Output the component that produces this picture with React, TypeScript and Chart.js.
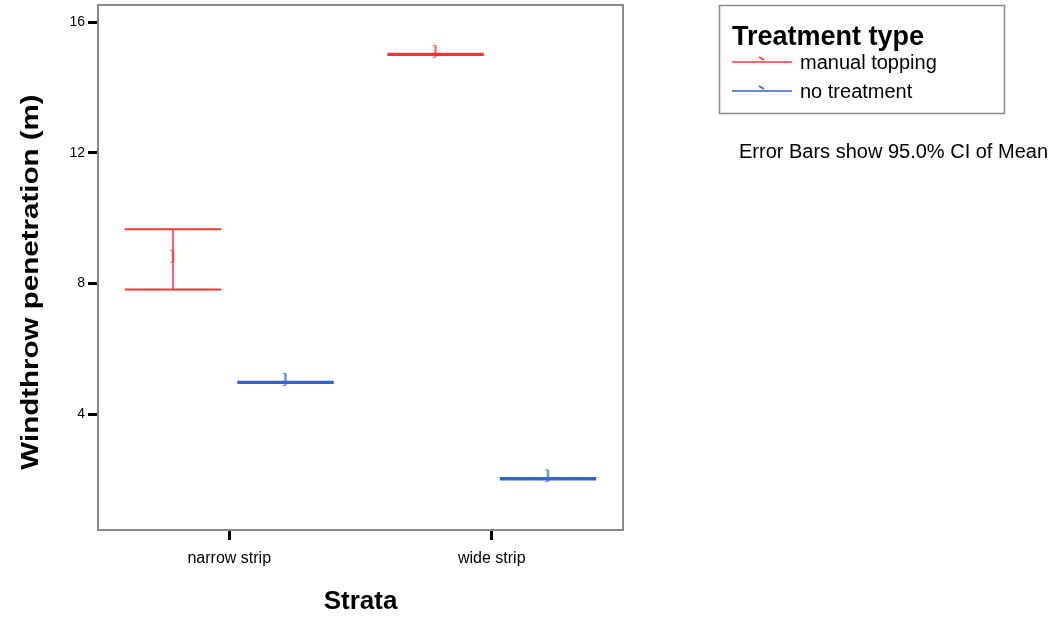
import React, { useEffect, useRef } from "react";
import { Chart, registerables } from "chart.js";

Chart.register(...registerables);

const categories = ["narrow strip", "wide strip"];
const seriesNames = ["manual topping", "no treatment"];
const seriesColors = ["#ff3333", "#3366cc"];
const manualMean = [8.74, 15.02];
const manualLow = [7.82, 15.0];
const manualHigh = [9.66, 15.04];
const noneMean = [4.97, 2.02];
const noneLow = [4.95, 2.0];
const noneHigh = [4.99, 2.04];
const yTicks = [4, 8, 12, 16];
const yTitle = "Windthrow penetration (m)";
const xTitle = "Strata";
const legendTitle = "Treatment type";
const note = "Error Bars show 95.0% CI of Mean";

const FONT = "'Liberation Sans', Arial, sans-serif";

const means = [manualMean, noneMean];

const errorBarPlugin = {
  id: "errorBars",
  afterDatasetsDraw(chart: any) {
    const ctx = chart.ctx;
    const yScale = chart.scales.y;
    const area = chart.chartArea;
    ctx.save();
    chart.data.datasets.forEach((ds: any, i: number) => {
      const meta = chart.getDatasetMeta(i);
      meta.data.forEach((bar: any, j: number) => {
        const { x, width } = bar.getProps(["x", "width"], true);
        const [lo, hi] = ds.data[j];
        const yLo = yScale.getPixelForValue(lo);
        const yHi = yScale.getPixelForValue(hi);
        const yM = yScale.getPixelForValue(means[i][j]);
        ctx.strokeStyle = seriesColors[i];
        ctx.lineWidth = 1.5;
        ctx.beginPath();
        ctx.moveTo(x, yLo);
        ctx.lineTo(x, yHi);
        ctx.stroke();
        ctx.lineWidth = 2;
        [yLo, yHi].forEach((yy) => {
          ctx.beginPath();
          ctx.moveTo(x - width / 2, yy);
          ctx.lineTo(x + width / 2, yy);
          ctx.stroke();
        });
        ctx.globalAlpha = 0.7;
        ctx.lineWidth = 2.5;
        ctx.beginPath();
        ctx.moveTo(x, yM - 9);
        ctx.lineTo(x, yM + 3);
        ctx.stroke();
        ctx.lineWidth = 1;
        ctx.beginPath();
        ctx.moveTo(x - 3, yM - 9);
        ctx.lineTo(x, yM - 9);
        ctx.moveTo(x - 3, yM + 3);
        ctx.lineTo(x, yM + 3);
        ctx.stroke();
        ctx.globalAlpha = 1;
      });
    });
    ctx.strokeStyle = "#8a8a8a";
    ctx.lineWidth = 2;
    ctx.strokeRect(area.left, area.top, area.right - area.left, area.bottom - area.top);
    ctx.restore();
  },
  afterDraw(chart: any) {
    const ctx = chart.ctx;
    const area = chart.chartArea;
    ctx.save();
    ctx.fillStyle = "#000";
    ctx.font = `bold 24px ${FONT}`;
    ctx.textAlign = "center";
    ctx.textBaseline = "middle";
    ctx.translate(31, 282);
    ctx.rotate(-Math.PI / 2);
    ctx.scale(1.23, 1);
    ctx.fillText(yTitle, 0, 0);
    ctx.restore();

    ctx.save();
    const lx = area.right + 96;
    ctx.strokeStyle = "#8a8a8a";
    ctx.lineWidth = 1.5;
    ctx.strokeRect(lx + 0.5, 5.5, 285, 108);
    ctx.fillStyle = "#000";
    ctx.textAlign = "left";
    ctx.textBaseline = "alphabetic";
    ctx.font = `bold 27px ${FONT}`;
    ctx.fillText(legendTitle, lx + 13, 45);
    ctx.font = `20px ${FONT}`;
    const rows = [62, 91];
    seriesNames.forEach((name, i) => {
      const y = rows[i];
      ctx.strokeStyle = seriesColors[i];
      ctx.lineWidth = 1.5;
      ctx.beginPath();
      ctx.moveTo(lx + 13, y);
      ctx.lineTo(lx + 73, y);
      ctx.stroke();
      ctx.lineWidth = 1.5;
      ctx.beginPath();
      ctx.moveTo(lx + 40, y - 5);
      ctx.lineTo(lx + 45, y - 2);
      ctx.stroke();
      ctx.fillStyle = "#000";
      ctx.fillText(name, lx + 81, y + 6.5);
    });
    ctx.font = `20px ${FONT}`;
    ctx.fillText(note, lx + 20, 158);
    ctx.restore();
  },
};

export default function App() {
  const ref = useRef<HTMLCanvasElement>(null);
  useEffect(() => {
    if (!ref.current) return;
    Chart.defaults.font.family = FONT;
    const chart = new Chart(ref.current, {
      type: "bar",
      data: {
        labels: categories,
        datasets: [
          {
            label: seriesNames[0],
            data: categories.map((_, j) => [manualLow[j], manualHigh[j]]),
            backgroundColor: "rgba(0,0,0,0)",
            borderWidth: 0,
          },
          {
            label: seriesNames[1],
            data: categories.map((_, j) => [noneLow[j], noneHigh[j]]),
            backgroundColor: "rgba(0,0,0,0)",
            borderWidth: 0,
          },
        ],
      } as any,
      options: {
        responsive: false,
        animation: false,
        events: [],
        layout: { padding: { left: 0, top: 5, right: 432, bottom: 0 } },
        datasets: {
          bar: { categoryPercentage: 0.857, barPercentage: 0.857 },
        },
        plugins: {
          legend: { display: false },
          tooltip: { enabled: false },
        },
        scales: {
          x: {
            type: "category",
            offset: true,
            afterFit: (s: any) => {
              s.height = 89;
              s.paddingLeft = 0;
              s.paddingRight = 0;
            },
            grid: {
              offset: false,
              drawOnChartArea: false,
              drawTicks: true,
              tickLength: 10,
              tickWidth: 3,
              tickColor: "#000",
              color: "#000",
            },
            border: { display: false },
            ticks: { color: "#000", font: { size: 16 }, padding: 9 },
            title: {
              display: true,
              text: xTitle,
              color: "#000",
              font: { size: 26, weight: "bold" },
              padding: { top: 0, bottom: 2 },
            },
          },
          y: {
            type: "linear",
            min: 0.45,
            max: 16.53,
            afterFit: (s: any) => {
              s.width = 98;
              s.paddingTop = 0;
              s.paddingBottom = 0;
            },
            afterBuildTicks: (s: any) => {
              s.ticks = yTicks.map((v) => ({ value: v }));
            },
            grid: {
              drawOnChartArea: false,
              drawTicks: true,
              tickLength: 10,
              tickWidth: 3,
              tickColor: "#000",
              color: "#000",
            },
            border: { display: false },
            ticks: { color: "#000", font: { size: 14 }, padding: 3 },
          },
        },
      } as any,
      plugins: [errorBarPlugin],
    });
    return () => chart.destroy();
  }, []);
  return (
    <div style={{ position: "absolute", left: 0, top: 0, width: 1055, height: 619, background: "#fff" }}>
      <canvas ref={ref} width={1055} height={619} />
    </div>
  );
}
